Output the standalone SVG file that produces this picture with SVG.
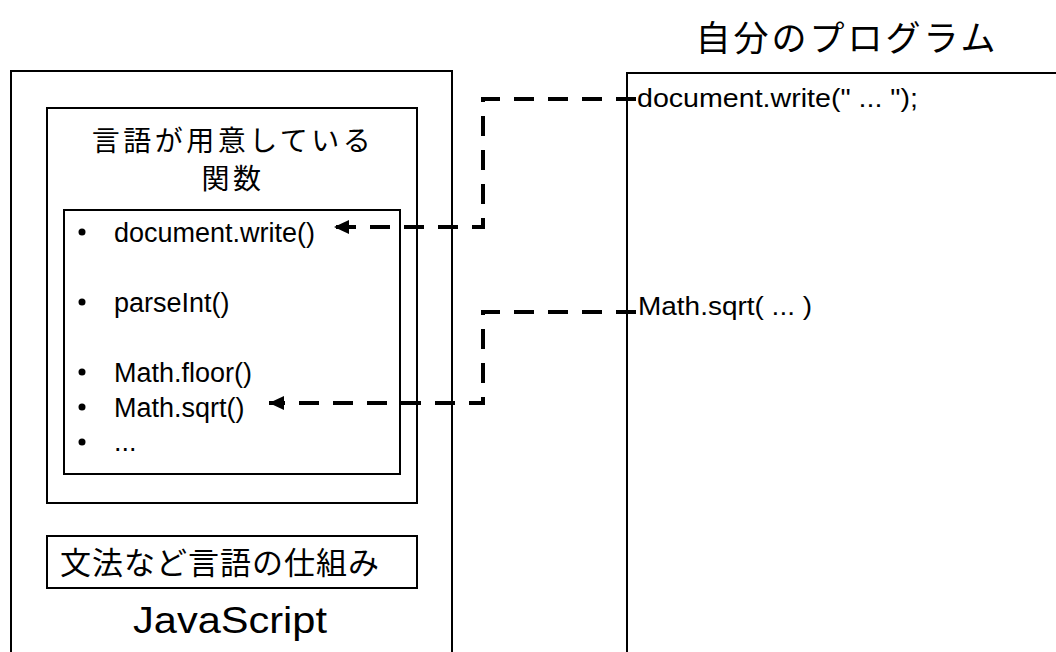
<svg xmlns="http://www.w3.org/2000/svg" width="1056" height="652" viewBox="0 0 1056 652">
<style>
.box{fill:none;stroke:#000;stroke-width:2}
.jp{font-family:"Noto Sans CJK JP","Noto Sans",sans-serif;fill:#000}
.en{font-family:"Liberation Sans",Arial,sans-serif;fill:#000}
.conn{fill:none;stroke:#000;stroke-width:4;stroke-dasharray:20 14}
</style>
<defs>
<marker id="arr" markerUnits="userSpaceOnUse" markerWidth="16" markerHeight="14" refX="15" refY="7" orient="auto">
<path d="M0,0 L15,7 L0,14 z" fill="#000"/>
</marker>
</defs>
<rect width="1056" height="652" fill="#fff"/>

<g id="title">
<text class="jp" x="847" y="51" font-size="35" text-anchor="middle" letter-spacing="3">自分のプログラム</text>
</g>

<g id="javascript">
<rect class="box" x="11" y="71" width="441" height="600"/>
<text class="en" x="230" y="633" font-size="36" text-anchor="middle" textLength="194" lengthAdjust="spacingAndGlyphs">JavaScript</text>
</g>

<g id="builtin-functions">
<rect class="box" x="47" y="108" width="370" height="395"/>
<text class="jp" x="233" y="151" font-size="28" text-anchor="middle" letter-spacing="3.5">言語が用意している</text>
<text class="jp" x="233" y="189" font-size="28" text-anchor="middle" letter-spacing="3.5">関数</text>
</g>

<g id="function-list">
<rect class="box" x="64" y="210" width="336" height="264"/>
<g fill="#000">
<circle cx="82" cy="232" r="3.5"/>
<circle cx="82" cy="302" r="3.5"/>
<circle cx="82" cy="372" r="3.5"/>
<circle cx="82" cy="407" r="3.5"/>
<circle cx="82" cy="442" r="3.5"/>
</g>
<text class="en" x="114" y="242" font-size="27">document.write()</text>
<text class="en" x="114" y="312" font-size="27">parseInt()</text>
<text class="en" x="114" y="382" font-size="27">Math.floor()</text>
<text class="en" x="114" y="417" font-size="27">Math.sqrt()</text>
<text class="en" x="114" y="451" font-size="27">...</text>
</g>

<g id="syntax">
<rect class="box" x="47" y="536" width="370" height="52"/>
<text class="jp" x="60" y="574" font-size="31" letter-spacing="1">文法など言語の仕組み</text>
</g>

<g id="my-program">
<rect class="box" x="627" y="73" width="440" height="600"/>
<text class="en" x="637" y="107" font-size="26" textLength="281" lengthAdjust="spacingAndGlyphs">document.write(" ... ");</text>
<text class="en" x="638" y="315" font-size="26" textLength="174" lengthAdjust="spacingAndGlyphs">Math.sqrt( ... )</text>
</g>

<g id="connectors">
<path class="conn" d="M636,99 H483 V227 H334" marker-end="url(#arr)"/>
<path class="conn" d="M636,312 H483 V403 H269" marker-end="url(#arr)"/>
</g>
</svg>
